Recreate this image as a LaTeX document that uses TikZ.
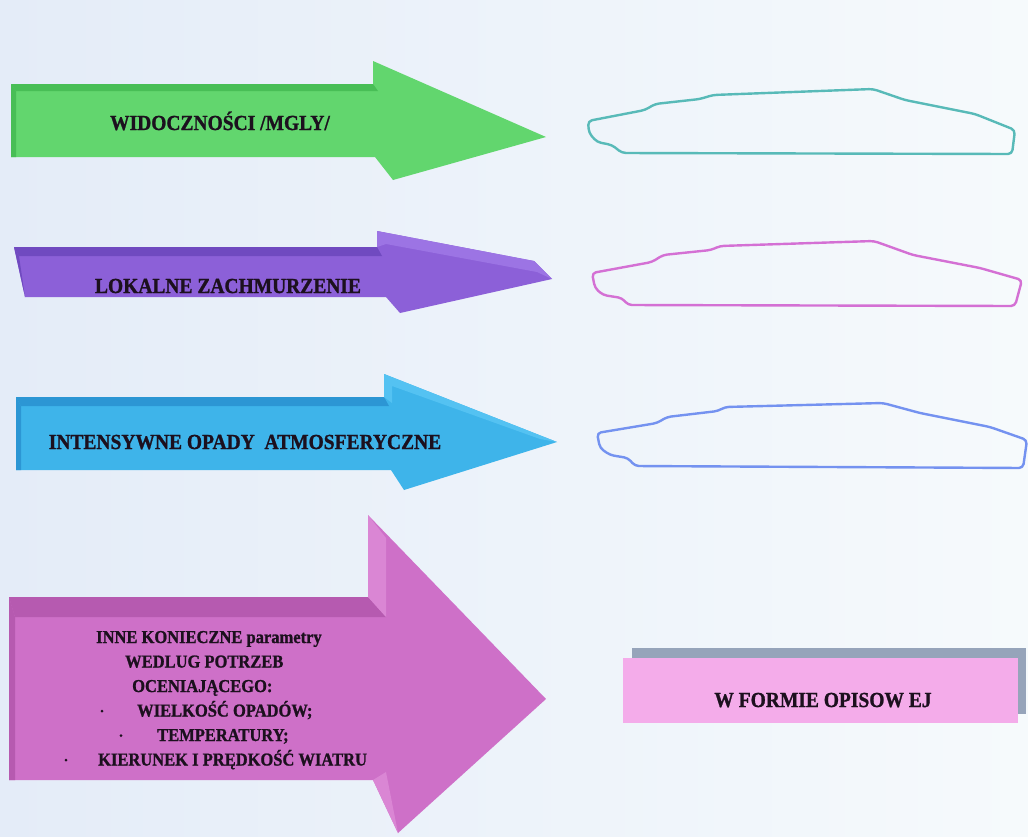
\documentclass[tikz,border=0pt]{standalone}
\usepackage{fontspec}
\setmainfont[BoldFeatures={FakeBold=1.2}]{Liberation Serif}
\newcommand{\tallish}[1]{\scalebox{1}[1.1]{#1}}
\begin{document}
\begin{tikzpicture}[x=1pt,y=-1pt,
  bigtxt/.style={inner sep=0pt,anchor=base,text=inkc,font=\bfseries\fontsize{19.5}{20}\selectfont},
  listtxt/.style={inner sep=0pt,anchor=base west,text=inkc,font=\bfseries\fontsize{16.5}{18}\selectfont},
  dotmark/.style={circle,fill=inkc,inner sep=0pt,minimum size=3pt},
  outline/.style={line width=2.4pt,rounded corners=4pt,line join=round}]
\definecolor{bgL}{RGB}{228,236,248}
\definecolor{bgR}{RGB}{246,250,252}
\definecolor{inkc}{RGB}{28,16,30}
\definecolor{grA}{RGB}{98,214,110}
\definecolor{grB}{RGB}{72,190,86}
\definecolor{puA}{RGB}{140,96,216}
\definecolor{puB}{RGB}{112,74,192}
\definecolor{puC}{RGB}{156,116,228}
\definecolor{blA}{RGB}{62,180,234}
\definecolor{blB}{RGB}{44,150,212}
\definecolor{blC}{RGB}{84,194,242}
\definecolor{pkA}{RGB}{206,112,200}
\definecolor{pkB}{RGB}{182,90,176}
\definecolor{pkC}{RGB}{218,134,212}
\definecolor{boxP}{RGB}{244,172,234}
\definecolor{boxG}{RGB}{150,164,186}
\definecolor{cTeal}{RGB}{88,186,184}
\definecolor{cMag}{RGB}{212,112,212}
\definecolor{cBlue}{RGB}{116,146,240}

% page background
\fill[left color=bgL,right color=bgR] (0,0) rectangle (1028,836);
\useasboundingbox (0,0) rectangle (1028,836);

% green arrow
\fill[grA] (11,84) -- (373,84) -- (373,61) -- (546,137) -- (393,180) -- (375,157) -- (11,157) -- cycle;
\fill[grB] (11,84) -- (373,84) -- (378,91) -- (16,91) -- cycle;
\fill[grB] (11,84) -- (16,91) -- (16,157) -- (11,157) -- cycle;
\node[bigtxt] (tgreen) at (220,130) {\tallish{WIDOCZNOŚCI /MGLY/}};

% purple arrow
\fill[puA] (14,247) -- (377,247) -- (377,231) -- (534,261) -- (552,279) -- (400,313) -- (386,297) -- (25,297) -- cycle;
\fill[puB] (14,247) -- (377,247) -- (382,256) -- (19,256) -- cycle;
\fill[puB] (14,247) -- (19,256) -- (25,297) -- cycle;
\fill[puC] (377,231) -- (534,261) -- (552,279) -- (537,272) -- (386,244) -- (377,247) -- cycle;
\node[bigtxt] (tpurple) at (228,293) {\tallish{LOKALNE ZACHMURZENIE}};

% blue arrow
\fill[blA] (16,397) -- (384,397) -- (384,374) -- (557,442) -- (404,490) -- (391,470) -- (16,470) -- cycle;
\fill[blB] (16,397) -- (384,397) -- (389,406) -- (21,406) -- cycle;
\fill[blB] (16,397) -- (21,406) -- (21,470) -- (16,470) -- cycle;
\fill[blC] (384,374) -- (557,442) -- (540,439) -- (392,386) -- (392,403) -- (384,397) -- cycle;
\node[bigtxt] (tblue) at (245,449) {\tallish{INTENSYWNE OPADY \ ATMOSFERYCZNE}};

% pink arrow
\fill[pkA] (9,597) -- (368,597) -- (368,515) -- (546,699) -- (398,833) -- (373,780) -- (9,780) -- cycle;
\fill[pkB] (9,597) -- (368,597) -- (386,617) -- (15,617) -- cycle;
\fill[pkB] (9,597) -- (15,617) -- (15,780) -- (9,780) -- cycle;
\fill[pkC] (368,515) -- (386,538) -- (386,617) -- (368,597) -- cycle;
\fill[pkC] (373,780) -- (386,772) -- (398,833) -- cycle;
\node[listtxt] (p1) at (96,643) {\tallish{INNE KONIECZNE parametry}};
\node[listtxt] (p2) at (125,667.5) {\tallish{WEDLUG POTRZEB}};
\node[listtxt] (p3) at (132,692) {\tallish{OCENIAJĄCEGO:}};
\node[dotmark] (b4) at (102,711) {};
\node[listtxt] (p4) at (137,716.5) {\tallish{WIELKOŚĆ OPADÓW;}};
\node[dotmark] (b5) at (121,735.5) {};
\node[listtxt] (p5) at (157,741) {\tallish{TEMPERATURY;}};
\node[dotmark] (b6) at (66,760) {};
\node[listtxt] (p6) at (98,765.5) {\tallish{KIERUNEK I PRĘDKOŚĆ WIATRU}};

% outlined panels
\draw[outline,cTeal] (588,121) -- (589,133) -- (597,142) -- (612,145) -- (622,153) -- (1012,154) -- (1015,130)
  -- (975,114) -- (905,100) -- (873,89) -- (713,95) -- (700,99) -- (655,104) -- (645,110) -- cycle;
\draw[outline,cMag] (592,273) -- (595,288) -- (603,295) -- (622,298) -- (628,305) -- (1015,306) -- (1022,280)
  -- (980,268) -- (913,255) -- (874,241) -- (720,246) -- (711,250) -- (663,255) -- (652,262) -- cycle;
\draw[outline,cBlue] (597,433) -- (600,448) -- (610,455) -- (628,458) -- (635,466) -- (1023,468) -- (1027,440)
  -- (990,427) -- (920,413) -- (883,403) -- (725,407) -- (718,411) -- (667,417) -- (657,423) -- cycle;

% descriptive box
\fill[boxG] (632,648) rectangle (1026,714);
\fill[boxP] (623,658) rectangle (1018,723);
\node[bigtxt] (tbox) at (823,707) {\tallish{W FORMIE OPISOW EJ}};
\end{tikzpicture}
\end{document}
